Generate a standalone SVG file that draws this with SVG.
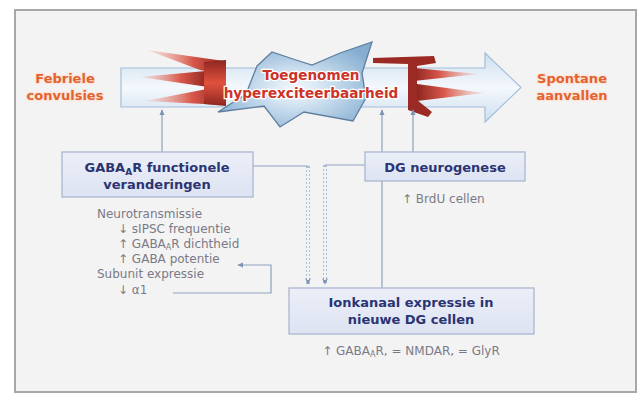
<svg xmlns="http://www.w3.org/2000/svg" width="644" height="396" viewBox="0 0 644 396">
<defs>
<style>
.conn{fill:none;stroke:#8da2be;stroke-width:1.2}
.dash{fill:none;stroke:#a9bdd7;stroke-width:4;stroke-dasharray:2 2}
.dashin{fill:none;stroke:#f3f3f3;stroke-width:2}
.box{fill:url(#boxG);stroke:#a6b2cf;stroke-width:1.2}
.bt{font-family:"DejaVu Sans",Verdana,sans-serif;font-weight:bold;font-size:13px;fill:#2b3472;text-anchor:middle}
.gt{font-family:"DejaVu Sans",Verdana,sans-serif;font-size:12px;fill:#7a7a86}
.ot{font-family:"DejaVu Sans",Verdana,sans-serif;font-weight:bold;font-size:13px;fill:#e2632f;text-anchor:middle;stroke:#fbe6dc;stroke-width:2.5;paint-order:stroke}
.tt{font-family:"DejaVu Sans",Verdana,sans-serif;font-weight:bold;font-size:13.6px;fill:#cc3328;text-anchor:middle;stroke:#ffffff;stroke-width:2.5;paint-order:stroke}
</style>
<linearGradient id="arrowG" x1="0" y1="0" x2="0" y2="1">
<stop offset="0" stop-color="#cddff0"/>
<stop offset="0.5" stop-color="#f4f8fc"/>
<stop offset="1" stop-color="#cddff0"/>
</linearGradient>
<radialGradient id="starG" cx="0.5" cy="0.55" r="0.6">
<stop offset="0" stop-color="#f5f9fd"/>
<stop offset="0.35" stop-color="#cfe1f0"/>
<stop offset="1" stop-color="#84add0"/>
</radialGradient>
<linearGradient id="flareL" x1="0" y1="0" x2="1" y2="0">
<stop offset="0" stop-color="#f2d3cc" stop-opacity="0.5"/>
<stop offset="0.6" stop-color="#d8574a"/>
<stop offset="1" stop-color="#8e2620"/>
</linearGradient>
<linearGradient id="flareR" x1="1" y1="0" x2="0" y2="0">
<stop offset="0" stop-color="#f2d3cc" stop-opacity="0.5"/>
<stop offset="0.6" stop-color="#d8574a"/>
<stop offset="1" stop-color="#8e2620"/>
</linearGradient>
<linearGradient id="blockG" x1="0" y1="0" x2="0" y2="1">
<stop offset="0" stop-color="#8e2620"/>
<stop offset="0.5" stop-color="#e0523e"/>
<stop offset="1" stop-color="#8e2620"/>
</linearGradient>
<linearGradient id="boxG" x1="0" y1="0" x2="0" y2="1">
<stop offset="0" stop-color="#eceff8"/>
<stop offset="1" stop-color="#dde3f2"/>
</linearGradient>
<marker id="ah" viewBox="0 0 8 8" refX="7" refY="4" markerWidth="5" markerHeight="5" orient="auto">
<path d="M0,0.5 L8,4 L0,7.5 Z" fill="#7d93b2"/>
</marker>
<marker id="ahd" viewBox="0 0 8 8" refX="7" refY="4" markerWidth="1.6" markerHeight="1.6" orient="auto">
<path d="M0,0.5 L8,4 L0,7.5 Z" fill="#7d93b2"/>
</marker>
</defs>

<rect x="15" y="10" width="621" height="382" fill="#f3f3f3" stroke="#a8a8a8" stroke-width="2"/>

<g id="main-arrow">
<path d="M121,68 H485 V53 L521,87.5 L485,122 V107 H121 Z" fill="url(#arrowG)" stroke="#a3bedb" stroke-width="1.2"/>
</g>

<g id="flares-left">
<polygon points="147,50 224,61 222,74 200,70" fill="url(#flareL)"/>
<polygon points="140,77 206,71 208,87" fill="url(#flareL)"/>
<polygon points="145,101 212,88 224,105" fill="url(#flareL)"/>
<polygon points="204,62 226,60 226,106 204,104" fill="url(#blockG)"/>
</g>

<g id="flares-right">
<polygon points="414,68 478,74 414,81" fill="url(#flareR)"/>
<polygon points="417,84 484,93 417,101" fill="url(#flareR)"/>
<polygon points="373,58 434,56 436,63 417,66 417,100 432,112 428,117 408,110 408,64 373,63" fill="#9b2a25"/>
</g>

<g id="star">
<polygon points="257,66 272,52 296,60 312,65 340,53 372,42 362,73 366,98 353,121 304,112 280,127 264,106 218,112 246,94" fill="url(#starG)" stroke="#5f7e9e" stroke-width="1.3" stroke-linejoin="miter"/>
<text class="tt" x="311" y="80">Toegenomen</text>
<text class="tt" x="311" y="98">hyperexciteerbaarheid</text>
</g>

<g id="febriele">
<text class="ot" x="65" y="83">Febriele</text>
<text class="ot" x="65" y="100">convulsies</text>
</g>

<g id="spontane">
<text class="ot" x="572" y="83">Spontane</text>
<text class="ot" x="572" y="100">aanvallen</text>
</g>

<g id="connectors">
<path class="conn" d="M162,152 V110" marker-end="url(#ah)"/>
<path class="conn" d="M382,288 V110" marker-end="url(#ah)"/>
<path class="conn" d="M413,152 V110" marker-end="url(#ah)"/>
<path class="conn" d="M253,166 H308"/>
<path class="dash" d="M308,166 V284" marker-end="url(#ahd)"/>
<path class="dashin" d="M308,168 V280"/>
<path class="conn" d="M365,165 H325"/>
<path class="dash" d="M325,165 V284" marker-end="url(#ahd)"/>
<path class="dashin" d="M325,167 V280"/>
<path class="conn" d="M173,293 H271 V265 H238" marker-end="url(#ah)"/>
</g>

<g id="gaba">
<rect class="box" x="62" y="152" width="191" height="45"/>
<text class="bt" x="157" y="172">GABA<tspan font-size="9" dy="3">A</tspan><tspan dy="-3">R functionele</tspan></text>
<text class="bt" x="157" y="189">veranderingen</text>
<text class="gt" x="97" y="218">Neurotransmissie</text>
<text class="gt" x="118" y="233">↓ sIPSC frequentie</text>
<text class="gt" x="118" y="248">↑ GABA<tspan font-size="8" dy="2">A</tspan><tspan dy="-2">R dichtheid</tspan></text>
<text class="gt" x="118" y="263">↑ GABA potentie</text>
<text class="gt" x="97" y="278">Subunit expressie</text>
<text class="gt" x="118" y="294">↓ α1</text>
</g>

<g id="dg">
<rect class="box" x="365" y="152" width="160" height="29"/>
<text class="bt" x="445" y="172">DG neurogenese</text>
<text class="gt" x="402" y="203">↑ BrdU cellen</text>
</g>

<g id="ionkanaal">
<rect class="box" x="289" y="288" width="245" height="46"/>
<text class="bt" x="411" y="307">Ionkanaal expressie in</text>
<text class="bt" x="411" y="324">nieuwe DG cellen</text>
<text class="gt" x="411" y="355" text-anchor="middle">↑ GABA<tspan font-size="8" dy="2">A</tspan><tspan dy="-2">R, = NMDAR, = GlyR</tspan></text>
</g>
</svg>
